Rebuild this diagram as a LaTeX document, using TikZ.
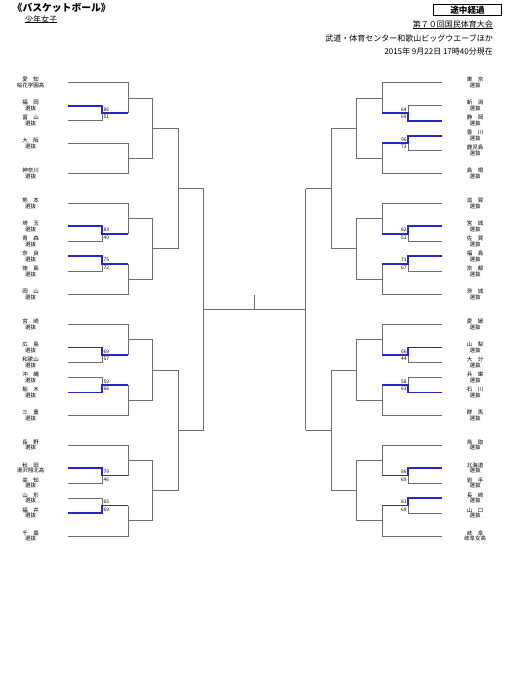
\documentclass[tikz,border=0pt]{standalone}
\usepackage{fontspec}
\setmainfont{Noto Sans CJK JP}
\definecolor{ln}{RGB}{110,110,110}
\definecolor{win}{RGB}{40,40,200}
\newcommand\pairL[5]{%
  \pgfmathsetmacro\ym{(#1+#2)/2}%
  \ifnum#3=1
    \draw[brk] (68,#2) -- (102,#2) -- (102,\ym);
    \draw[wn] (68,#1) -- (102,#1) -- (102,\ym) -- (128,\ym);
  \else
    \draw[brk] (68,#1) -- (102,#1) -- (102,\ym);
    \draw[wn] (68,#2) -- (102,#2) -- (102,\ym) -- (128,\ym);
  \fi
  \node[sc,anchor=west] at (103.5,\ym-3.8) {#4};
  \node[sc,anchor=west] at (103.5,\ym+4) {#5};
}
\newcommand\pairR[5]{%
  \pgfmathsetmacro\ym{(#1+#2)/2}%
  \ifnum#3=1
    \draw[brk] (441.7,#2) -- (408.3,#2) -- (408.3,\ym);
    \draw[wn] (441.7,#1) -- (408.3,#1) -- (408.3,\ym) -- (382.3,\ym);
  \else
    \draw[brk] (441.7,#1) -- (408.3,#1) -- (408.3,\ym);
    \draw[wn] (441.7,#2) -- (408.3,#2) -- (408.3,\ym) -- (382.3,\ym);
  \fi
  \node[sc,anchor=east] at (406.8,\ym-3.8) {#4};
  \node[sc,anchor=east] at (406.8,\ym+4) {#5};
}
% block frame: y0
\newcommand\frameL[1]{%
  \draw[brk] (68,#1) -- (128,#1) -- (128,#1+30.5);
  \draw[brk] (68,#1+91) -- (128,#1+91) -- (128,#1+60.5);
  \draw[brk] (128,#1+15.25) -- (152.7,#1+15.25) -- (152.7,#1+75.75) -- (128,#1+75.75);
  \draw[brk] (152.7,#1+45.5) -- (178.3,#1+45.5);
}
\newcommand\frameR[1]{%
  \draw[brk] (441.7,#1) -- (382.3,#1) -- (382.3,#1+30.5);
  \draw[brk] (441.7,#1+91) -- (382.3,#1+91) -- (382.3,#1+60.5);
  \draw[brk] (382.3,#1+15.25) -- (356.7,#1+15.25) -- (356.7,#1+75.75) -- (382.3,#1+75.75);
  \draw[brk] (356.7,#1+45.5) -- (331,#1+45.5);
}
\begin{document}
\begin{tikzpicture}[x=1pt,y=-1pt,
  brk/.style={draw=ln,line width=0.85pt},
  wn/.style={draw=win,line width=1.7pt},
  lbl/.style={font=\fontsize{5.5}{5.7}\selectfont,align=center,inner sep=0pt},
  sc/.style={font=\fontsize{4.9}{5}\selectfont,inner sep=0pt},
  hd/.style={font=\fontsize{8}{8}\selectfont,inner sep=0pt}]
\useasboundingbox[fill=white] (0,0) rectangle (510,680);

% ---------- header ----------
\node[font=\fontsize{9.8}{10}\bfseries\selectfont,anchor=west,inner sep=0pt] (title) at (12.5,8) {《バスケットボール》};
\node[hd,anchor=west] (cat) at (25,19) {少年女子};
\draw (cat.west |- 0,22.6) -- (cat.east |- 0,22.6);
\node[draw,line width=1pt,minimum width=68pt,minimum height=11.5pt,inner sep=0pt,
      font=\fontsize{8.6}{9}\bfseries\selectfont] (prog) at (467.5,10) {途中経過};
\node[hd,anchor=east] (meet) at (493,24.3) {第７０回国民体育大会};
\draw (meet.west |- 0,28.2) -- (meet.east |- 0,28.2);
\node[hd,anchor=east] (venue) at (493,38) {武道・体育センター和歌山ビッグウエーブほか};
\node[hd,anchor=east] (date) at (493,51) {2015年 9月22日 17時40分現在};

% ---------- left side ----------
% block L1 (y0 = 82.7)
\draw[brk] (68,82.7) -- (128,82.7) -- (128,113.2);
\draw[brk] (68,143.2) -- (128,143.2) -- (128,173.7) -- (68,173.7);
\draw[brk] (128,97.95) -- (152.7,97.95) -- (152.7,158.45) -- (128,158.45);
\draw[brk] (152.7,128.2) -- (178.3,128.2);
\pairL{105.7}{120.7}{1}{86}{51}
\frameL{203.3}
\pairL{226.3}{241.3}{1}{83}{49}
\pairL{256.3}{271.3}{1}{75}{72}
\frameL{324.6}
\pairL{347.6}{362.6}{1}{69}{57}
\pairL{377.6}{392.6}{2}{59}{66}
\frameL{445}
\pairL{468}{483}{1}{79}{46}
\pairL{498}{513}{2}{65}{69}
\draw[brk] (178.3,128.2) -- (178.3,248.8) (178.3,188.5) -- (203.7,188.5);
\draw[brk] (178.3,370.1) -- (178.3,490.5) (178.3,430.3) -- (203.7,430.3);
\draw[brk] (203.7,188.5) -- (203.7,430.3) (203.7,309.4) -- (305.7,309.4);
\draw[brk] (254.8,295) -- (254.8,309.4);
% ---------- right side ----------
\frameR{82.7}
\pairR{105.7}{120.7}{2}{64}{69}
\pairR{135.7}{150.7}{1}{96}{73}
\frameR{203.3}
\pairR{226.3}{241.3}{1}{82}{51}
\pairR{256.3}{271.3}{1}{71}{67}
\frameR{324.6}
\pairR{347.6}{362.6}{1}{66}{44}
\pairR{377.6}{392.6}{2}{58}{63}
\frameR{445}
\pairR{468}{483}{1}{86}{69}
\pairR{498}{513}{1}{81}{69}
\draw[brk] (331,128.2) -- (331,248.8) (331,188.5) -- (305.7,188.5);
\draw[brk] (331,370.1) -- (331,490.5) (331,430.3) -- (305.7,430.3);
\draw[brk] (305.7,188.5) -- (305.7,430.3);

% ---------- team labels, left ----------
\foreach \y/\a/\b/\n in {82.7/愛　知/桜花学園高/aichi, 105.7/福　岡/選抜/fukuoka, 120.7/富　山/選抜/toyama,
  143.2/大　阪/選抜/osaka, 173.7/神奈川/選抜/kanagawa,
  203.3/熊　本/選抜/kumamoto, 226.3/埼　玉/選抜/saitama, 241.3/青　森/選抜/aomori,
  256.3/奈　良/選抜/nara, 271.3/徳　島/選抜/tokushima, 294.3/岡　山/選抜/okayama,
  324.6/宮　崎/選抜/miyazaki, 347.6/広　島/選抜/hiroshima, 362.6/和歌山/選抜/wakayama,
  377.6/沖　縄/選抜/okinawa, 392.6/栃　木/選抜/tochigi, 415.6/三　重/選抜/mie,
  445/長　野/選抜/nagano, 468/秋　田/湯沢翔北高/akita, 483/高　知/選抜/kochi,
  498/山　形/選抜/yamagata, 513/福　井/選抜/fukui, 536/千　葉/選抜/chiba}
  \node[lbl] (\n) at (30.5,\y) {\a\\\b};
% ---------- team labels, right ----------
\foreach \y/\a/\b/\n in {82.7/東　京/選抜/tokyo, 105.7/新　潟/選抜/niigata, 120.7/静　岡/選抜/shizuoka,
  135.7/香　川/選抜/kagawa, 150.7/鹿児島/選抜/kagoshima, 173.7/島　根/選抜/shimane,
  203.3/滋　賀/選抜/shiga, 226.3/宮　城/選抜/miyagi, 241.3/佐　賀/選抜/saga,
  256.3/福　島/選抜/fukushima, 271.3/京　都/選抜/kyoto, 294.3/茨　城/選抜/ibaraki,
  324.6/愛　媛/選抜/ehime, 347.6/山　梨/選抜/yamanashi, 362.6/大　分/選抜/oita,
  377.6/兵　庫/選抜/hyogo, 392.6/石　川/選抜/ishikawa, 415.6/群　馬/選抜/gunma,
  445/鳥　取/選抜/tottori, 468/北海道/選抜/hokkaido, 483/岩　手/選抜/iwate,
  498/長　崎/選抜/nagasaki, 513/山　口/選抜/yamaguchi, 536/岐　阜/岐阜女高/gifu}
  \node[lbl] (\n) at (475,\y) {\a\\\b};
\end{tikzpicture}
\end{document}
